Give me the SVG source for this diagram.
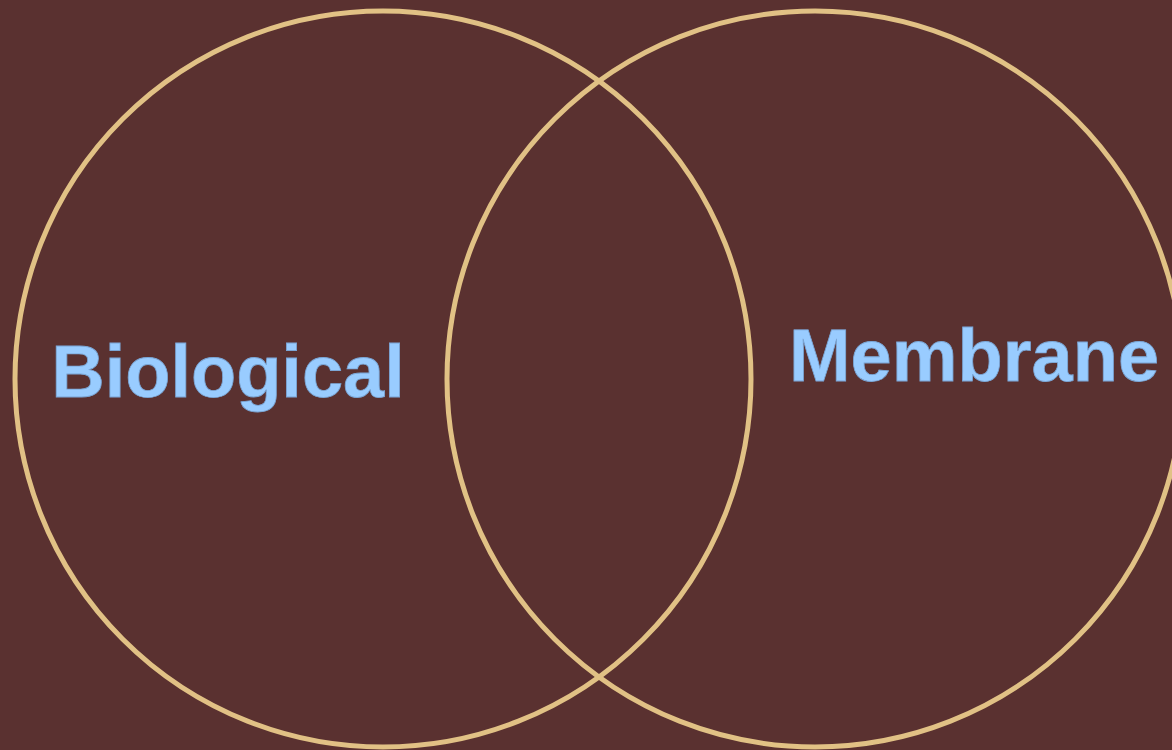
<svg xmlns="http://www.w3.org/2000/svg" width="1172" height="750" viewBox="0 0 1172 750">
<style>
.set{fill:none;stroke:#e1c185;stroke-width:5}
.lbl{font-family:"Liberation Sans",Arial,sans-serif;font-weight:bold;font-size:74px;fill:#99ccff;stroke:#7aa6d6;stroke-width:0.8;text-anchor:middle}
</style>
<rect width="1172" height="750" fill="#5a3130"/>
<g id="biological">
<circle class="set" cx="383" cy="379" r="368"/>
<text class="lbl" x="228" y="397">Biological</text>
</g>
<g id="membrane">
<circle class="set" cx="815" cy="379" r="368"/>
<text class="lbl" x="974" y="381">Membrane</text>
</g>
<g id="connectors"></g>
</svg>
